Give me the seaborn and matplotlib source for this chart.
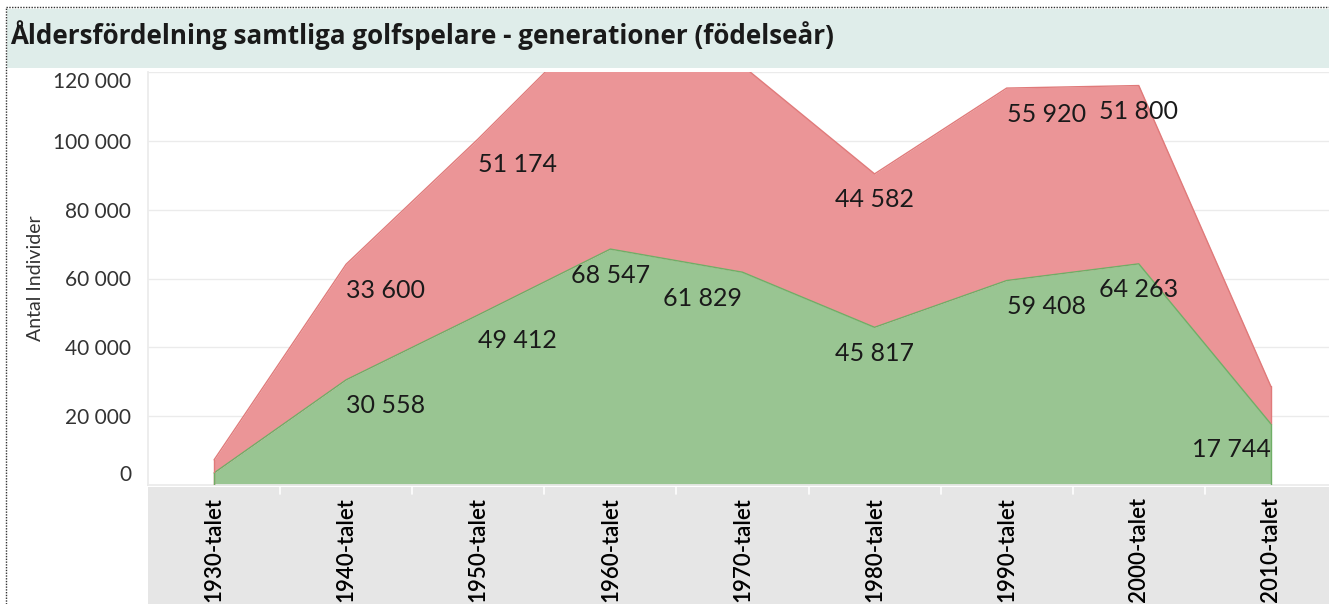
import numpy as np
import pandas as pd
import matplotlib.pyplot as plt
import seaborn as sns
from matplotlib.patches import Rectangle
from matplotlib.lines import Line2D

decades = ['1930-talet', '1940-talet', '1950-talet', '1960-talet', '1970-talet',
           '1980-talet', '1990-talet', '2000-talet', '2010-talet']
green_vals = [3500, 30558, 49412, 68547, 61829, 45817, 59408, 64263, 17744]
red_vals = [3800, 33600, 51174, 70300, 60000, 44582, 55920, 51800, 10900]

# which labels Tableau actually shows (others fall outside the view)
green_show = [False, True, True, True, True, True, True, True, True]
red_show = [False, True, True, False, False, True, True, True, False]
label_ha = ['center', 'left', 'left', 'center', 'right', 'center', 'left', 'center', 'right']

y_ticks = [0, 20000, 40000, 60000, 80000, 100000, 120000]

GREEN = '#99c592'
RED = '#eb9597'


def fmt(v):
    return f'{v:,}'.replace(',', ' ')


df = pd.DataFrame({'decade': decades, 'green': green_vals, 'red': red_vals})
df['x'] = np.arange(len(df))
df['total'] = df['green'] + df['red']

sns.set_theme(style='white')
plt.rcParams['font.family'] = ['Lato', 'DejaVu Sans']

W, H = 1329, 604
fig = plt.figure(figsize=(W / 100, H / 100), dpi=100)

# title band
fig.patches.append(Rectangle((7 / W, 1 - 68 / H), 1, 59 / H, transform=fig.transFigure,
                             facecolor='#dfedea', edgecolor='none', zorder=-2))
fig.text(10 / W, 1 - 35 / H, 'Åldersfördelning samtliga golfspelare - generationer (födelseår)',
         fontsize=18.7, fontweight='bold', family=['Open Sans', 'DejaVu Sans'],
         color='#1a1a1a', va='center', ha='left')
# dotted worksheet border
fig.lines.append(Line2D([6 / W, 6 / W], [0, 1 - 7 / H], transform=fig.transFigure,
                        color='#333333', lw=1, ls=(0, (1, 1))))
fig.lines.append(Line2D([6 / W, 1], [1 - 7 / H, 1 - 7 / H], transform=fig.transFigure,
                        color='#333333', lw=1, ls=(0, (1, 1))))

# grey header band for x labels
fig.patches.append(Rectangle((148 / W, 0), 1, (H - 487) / H, transform=fig.transFigure,
                             facecolor='#e6e6e6', edgecolor='none', zorder=-2))

ax = fig.add_axes([148 / W, (H - 485) / H, (W - 148) / W, (485 - 72) / H])
ax.set_facecolor('white')

ax.fill_between(df['x'], 0, df['green'], color=GREEN, lw=0, zorder=2)
ax.fill_between(df['x'], df['green'], df['total'], color=RED, lw=0, zorder=2)
sns.lineplot(data=df, x='x', y='green', color='#6fae66', lw=1, ax=ax, zorder=3)
sns.lineplot(data=df, x='x', y='total', color='#e07a7a', lw=1, ax=ax, zorder=3)
ax.plot([0, 0], [0, df['total'][0]], color='#e07a7a', lw=1, zorder=3)
ax.plot([8, 8], [df['green'][8], df['total'][8]], color='#e07a7a', lw=1, zorder=3)
ax.plot([0, 0], [0, df['green'][0]], color='#6fae66', lw=1, zorder=3)
ax.plot([8, 8], [0, df['green'][8]], color='#6fae66', lw=1, zorder=3)

for i in range(len(df)):
    if green_show[i]:
        ax.annotate(fmt(green_vals[i]), (i, green_vals[i]), xytext=(0, -26),
                    textcoords='offset pixels', ha=label_ha[i], va='center',
                    fontsize=18, color='#1a1a1a', zorder=4)
    if red_show[i]:
        ax.annotate(fmt(red_vals[i]), (i, df['total'][i]), xytext=(0, -26),
                    textcoords='offset pixels', ha=label_ha[i], va='center',
                    fontsize=18, color='#1a1a1a', zorder=4)

ax.set_xlim(-0.5, 8.44)
ax.set_ylim(0, 120000)
ax.set_yticks(y_ticks)
ax.set_yticklabels([fmt(v) for v in y_ticks], fontsize=15, color='#333333')
ylabels = ax.get_yticklabels()
ylabels[0].set_va('bottom')
ylabels[-1].set_va('top')
ax.grid(axis='y', color='#ebebeb', lw=1, zorder=1)
ax.set_axisbelow(True)
ax.tick_params(axis='y', length=0, pad=12)
ax.set_ylabel('Antal Individer', fontsize=14, color='#333333')
ax.yaxis.set_label_coords(-104 / (W - 148), 0.5)

ax.set_xticks(df['x'])
ax.set_xticklabels(decades, rotation=90, fontsize=16, fontweight='semibold',
                   color='black', va='top')
ax.tick_params(axis='x', length=0, pad=9)
ax.set_xlabel('')
# white separators between the columns
for b in np.arange(0.5, 8.5, 1.0):
    ax.plot([b, b], [-0.006, -0.022], transform=ax.get_xaxis_transform(), color='white',
            lw=1.2, clip_on=False, zorder=5)

for s in ['top', 'right']:
    ax.spines[s].set_visible(False)
ax.spines['left'].set_color('#ebebeb')
ax.spines['bottom'].set_color('#ebebeb')

fig.savefig('out.png', dpi=100)
